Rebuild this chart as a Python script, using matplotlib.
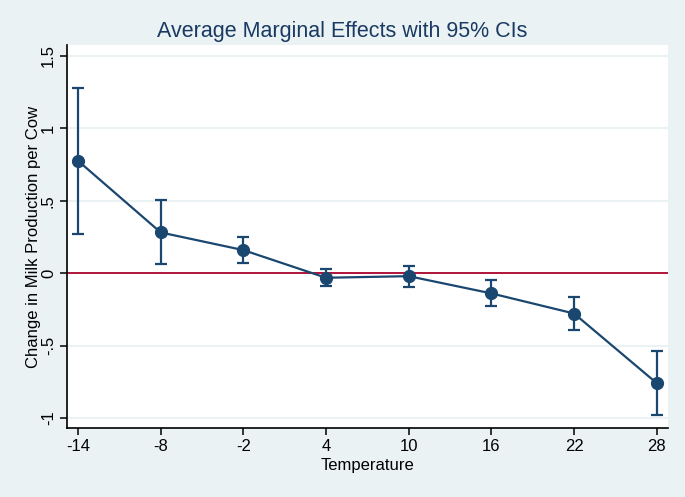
import matplotlib
matplotlib.use("Agg")
import matplotlib.pyplot as plt

temperature = [-14, -8, -2, 4, 10, 16, 22, 28]
effect = [0.776, 0.281, 0.159, -0.032, -0.021, -0.140, -0.279, -0.760]
ci_upper = [1.28, 0.505, 0.251, 0.028, 0.050, -0.050, -0.166, -0.537]
ci_lower = [0.27, 0.062, 0.067, -0.090, -0.095, -0.228, -0.396, -0.980]

yticks = [-1, -0.5, 0, 0.5, 1, 1.5]
ytick_labels = ["-1", "-.5", "0", ".5", "1", "1.5"]

bg = "#EAF2F3"
navy = "#1A476F"

plt.rcParams['font.family'] = ['Liberation Sans', 'DejaVu Sans']

fig = plt.figure(figsize=(6.85, 4.97), dpi=100, facecolor=bg)
ax = fig.add_axes([0.0978, 0.1388, 0.877, 0.7707])
ax.set_facecolor("white")

for y in yticks:
    ax.axhline(y, color=bg, linewidth=1.5, zorder=0)
ax.axhline(0, color="#B0133A", linewidth=1.4, zorder=1)

err = [[e - lo for e, lo in zip(effect, ci_lower)], [hi - e for e, hi in zip(effect, ci_upper)]]
ax.errorbar(temperature, effect, yerr=err, fmt='none', ecolor=navy, elinewidth=1.6,
            capsize=4, capthick=1.6, zorder=2)
ax.plot(temperature, effect, color=navy, linewidth=1.6, marker='o', markersize=8.5, zorder=3)

ax.set_xlim(-14.8, 28.8)
ax.set_ylim(-1.07, 1.576)
ax.set_xticks(temperature)
ax.set_xticklabels([str(t) for t in temperature], fontsize=12)
ax.set_yticks(yticks)
ax.set_yticklabels(ytick_labels, fontsize=12, rotation=90, va='center')

for s in ["top", "right"]:
    ax.spines[s].set_visible(False)
for s in ["left", "bottom"]:
    ax.spines[s].set_color("black")
    ax.spines[s].set_linewidth(1.2)
ax.tick_params(direction='out', length=5, width=1.1, colors='black', pad=3)

ax.set_xlabel("Temperature", fontsize=12, labelpad=3)
ax.set_ylabel("Change in Milk Production per Cow", fontsize=12, labelpad=0)
fig.text(0.5, 0.937, "Average Marginal Effects with 95% CIs", ha='center', va='center',
         fontsize=15.5, color="#1A3A63")

fig.savefig("out.png", dpi=100, facecolor=bg)
